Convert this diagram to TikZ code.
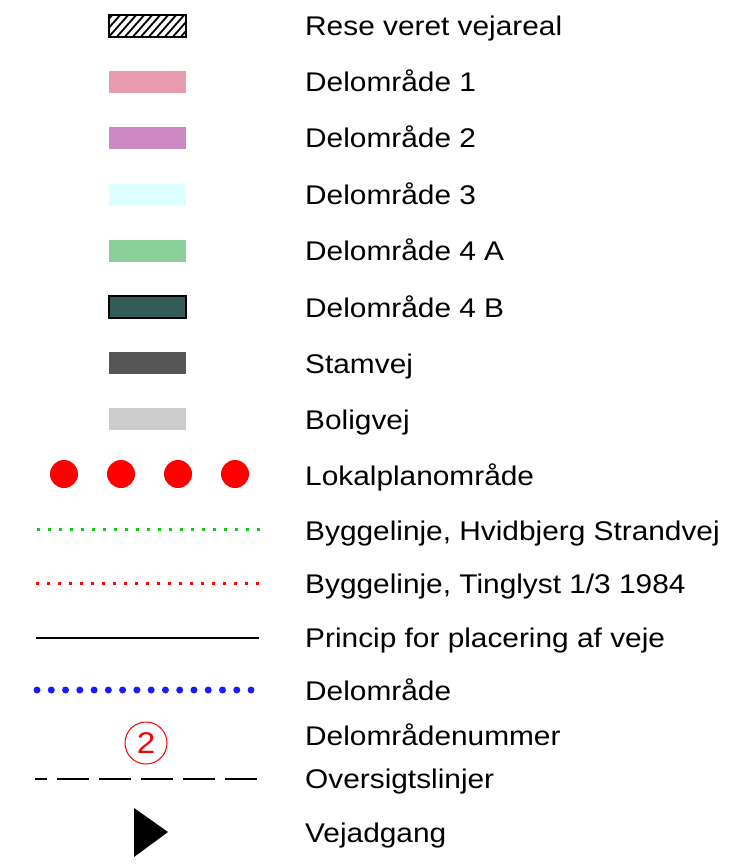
\documentclass[tikz,border=0pt]{standalone}
\usepackage{fontspec}
\setmainfont[FakeStretch=1.105]{Liberation Sans}
\definecolor{delpink}{HTML}{E89BAE}
\definecolor{delpurple}{HTML}{CC88C0}
\definecolor{delcyan}{HTML}{DDFFFF}
\definecolor{delgreen}{HTML}{8ACE9A}
\definecolor{delteal}{HTML}{345B58}
\definecolor{stamgrey}{HTML}{555555}
\definecolor{boliggrey}{HTML}{CCCCCC}
\definecolor{dotgreen}{HTML}{11CC11}
\definecolor{dotblue}{HTML}{1A1AFF}
\tikzstyle{swatch}=[rectangle,minimum width=77pt,minimum height=22pt,inner sep=0pt]
\tikzstyle{entry}=[anchor=base west,inner sep=0pt,font=\fontsize{27}{32}\selectfont]
\tikzstyle{bigdot}=[circle,fill=red,minimum size=28pt,inner sep=0pt]

\begin{document}
\begin{tikzpicture}[x=1pt,y=-1pt]
\useasboundingbox (0,0) rectangle (752,866);

% swatches
\node[swatch,draw,line width=2pt] (hatch) at (147.5,26.5) {};
\begin{scope}
\clip (109,16) rectangle (186,37);
\foreach \x in {90,98,...,190}
  \draw[line width=1.8pt] (\x,40) -- (\x+24,13);
\end{scope}
\node[swatch,fill=delpink] (d1) at (147.5,82) {};
\node[swatch,fill=delpurple] (d2) at (147.5,138) {};
\node[swatch,fill=delcyan] (d3) at (147.5,195) {};
\node[swatch,fill=delgreen] (d4a) at (147.5,251) {};
\node[swatch,fill=delteal,draw,line width=1.5pt] (d4b) at (147.5,307) {};
\node[swatch,fill=stamgrey] (stam) at (147.5,363) {};
\node[swatch,fill=boliggrey] (bolig) at (147.5,419) {};

% lokalplan dots
\foreach \x/\n in {64/1,121/2,178/3,235/4}
  \node[bigdot] (lp\n) at (\x,474) {};

% line symbols
\coordinate (g1) at (37,529);
\coordinate (g2) at (260,529);
\coordinate (r1) at (36,583);
\coordinate (r2) at (259,583);
\coordinate (p1) at (36,638);
\coordinate (p2) at (259,638);
\coordinate (b1) at (37,690);
\coordinate (b2) at (252,690);
\coordinate (o1) at (35,779);
\coordinate (o2) at (258,779);
\draw[dotgreen,line width=3pt,dash pattern=on 3pt off 8pt] (g1) -- (g2);
\draw[red,line width=3pt,dash pattern=on 3pt off 8pt] (r1) -- (r2);
\draw[line width=1.3pt] (p1) -- (p2);
\draw[dotblue,line width=7pt,line cap=round,dash pattern=on 0pt off 14.27pt] (b1) -- (b2);
\draw[line width=2pt,dash pattern=on 32pt off 10pt,dash phase=20pt] (o1) -- (o2);

% delomraadenummer
\node[circle,draw=red,line width=1pt,minimum size=42pt,inner sep=0pt,text=red,
  font=\fontsize{30}{34}\selectfont] (num) at (146,743) {2};

% vejadgang
\fill (134,808) -- (168,832) -- (134,857) -- cycle;

% labels
\node[entry] (t1) at (305,36) {Rese veret vejareal};
\node[entry] (t2) at (305,92) {Delområde 1};
\node[entry] (t3) at (305,148) {Delområde 2};
\node[entry] (t4) at (305,205) {Delområde 3};
\node[entry] (t5) at (305,261) {Delområde 4 A};
\node[entry] (t6) at (305,317) {Delområde 4 B};
\node[entry] (t7) at (305,373) {Stamvej};
\node[entry] (t8) at (305,429) {Boligvej};
\node[entry] (t9) at (305,485) {Lokalplanområde};
\node[entry] (t10) at (305,540) {Byggelinje, Hvidbjerg Strandvej};
\node[entry] (t11) at (305,593) {Byggelinje, Tinglyst 1/3 1984};
\node[entry] (t12) at (305,647) {Princip for placering af veje};
\node[entry] (t13) at (305,700) {Delområde};
\node[entry] (t14) at (305,745) {Delområdenummer};
\node[entry] (t15) at (305,788) {Oversigtslinjer};
\node[entry] (t16) at (305,842) {Vejadgang};
\end{tikzpicture}
\end{document}
